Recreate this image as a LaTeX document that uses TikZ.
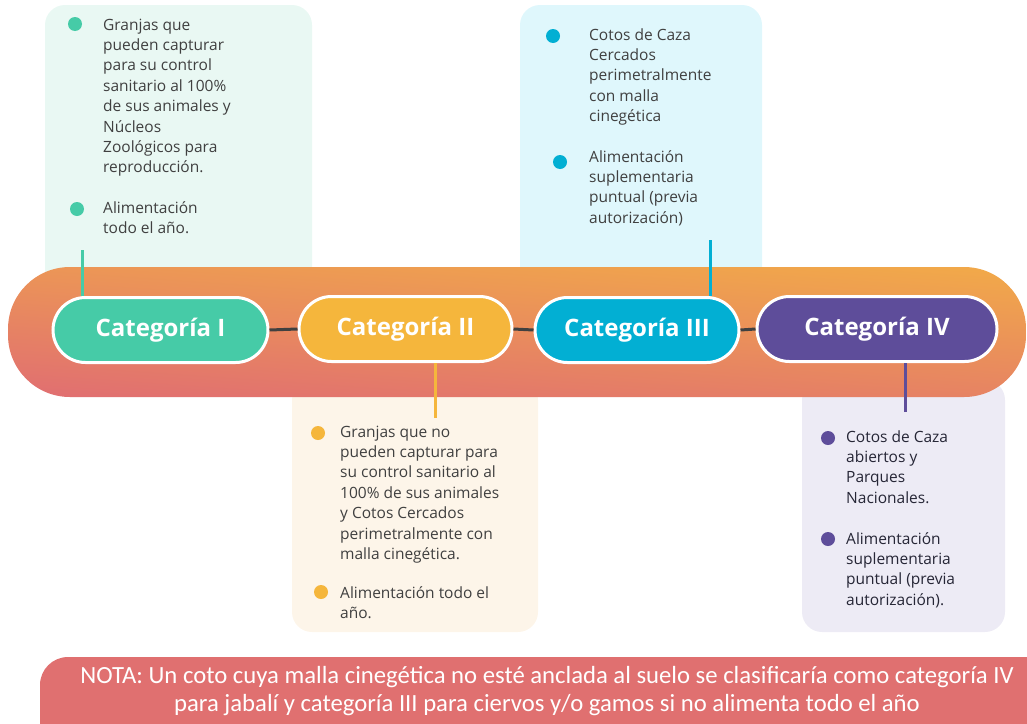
\documentclass[tikz,border=0pt]{standalone}
\usepackage{fontspec}
\setmainfont{Open Sans}
\newfontfamily\notefont{Carlito}
\newfontfamily\labelfont{Open Sans}
\usetikzlibrary{shapes.misc}
\definecolor{mintbg}{HTML}{E9F8F3}
\definecolor{cyanbg}{HTML}{DFF7FC}
\definecolor{creambg}{HTML}{FDF5E9}
\definecolor{lavbg}{HTML}{EDEBF5}
\definecolor{cgreen}{HTML}{46CBA7}
\definecolor{cyellow}{HTML}{F5B63C}
\definecolor{ccyan}{HTML}{02AFD3}
\definecolor{cpurple}{HTML}{5E4D9A}
\definecolor{bandtop}{HTML}{F1A84A}
\definecolor{bandbot}{HTML}{E17070}
\definecolor{notebg}{HTML}{E07070}
\definecolor{txt}{HTML}{404040}
\definecolor{txtiv}{HTML}{262636}
\definecolor{linkc}{HTML}{404040}
\begin{document}
\begin{tikzpicture}[x=1pt,y=-1pt,
  infobox/.style={rectangle, rounded corners=20pt, inner sep=0pt},
  pill/.style={rounded rectangle, draw=white, line width=3pt, minimum height=65pt, inner sep=0pt,
    text=white, font=\labelfont\bfseries\fontsize{24pt}{28pt}\selectfont},
  dot/.style={circle, inner sep=0pt, minimum size=14pt},
  item/.style={anchor=base west, inner sep=0pt, align=left, text=txt,
    font=\fontsize{15.5pt}{20.4pt}\selectfont},
  link/.style={draw=linkc, line width=3pt},
  tick/.style={line width=3pt}]
\useasboundingbox (0,0) rectangle (1027,723);
\clip (0,0) rectangle (1027,723);
% background boxes
\node[infobox, fill=mintbg, minimum width=267pt, minimum height=285pt] (b1) at (178.5,147.5) {};
\node[infobox, fill=cyanbg, minimum width=242pt, minimum height=285pt] (b3) at (641,147.5) {};
\node[infobox, fill=creambg, minimum width=246pt, minimum height=252pt] (b2) at (415,506) {};
\node[infobox, fill=lavbg, minimum width=203pt, minimum height=252pt] (b4) at (903.5,506) {};
% band
\shade[top color=bandtop, bottom color=bandbot, shading angle=-4, rounded corners=62pt]
  (8,267) rectangle (1026,397);
% pills
\node[pill, fill=cgreen, minimum width=215pt] (c1) at (160.5,330) {Categoría I};
\node[pill, fill=cyellow, minimum width=213pt] (c2) at (405.5,329) {Categoría II};
\node[pill, fill=ccyan, minimum width=204pt] (c3) at (637,330) {Categoría III};
\node[pill, fill=cpurple, minimum width=240pt] (c4) at (877,329) {Categoría IV};
\draw[link] (c1.east) -- (c2.west);
\draw[link] (c2.east) -- (c3.west);
\draw[link] (c3.east) -- (c4.west);
% vertical ticks
\coordinate (v1) at (82,250);
\coordinate (v3) at (710,240);
\coordinate (v2) at (435,418);
\coordinate (v4) at (905,412);
\draw[tick, cgreen] (v1) -- (v1 |- c1.north);
\draw[tick, ccyan] (v3) -- (v3 |- c3.north);
\draw[tick, cyellow] (v2) -- (v2 |- c2.south);
\draw[tick, cpurple] (v4) -- (v4 |- c4.south);
% category I (anchors at the baseline of each block's last line)
\node[dot, fill=cgreen] (d1a) at (75,24) {};
\node[dot, fill=cgreen] (d1b) at (77,209) {};
\node[item] (t1a) at (103,172.8) {Granjas que\\pueden capturar\\para su control\\sanitario al 100\%\\de sus animales y\\Núcleos\\Zoológicos para\\reproducción.};
\node[item] (t1b) at (103,233.4) {Alimentación\\todo el año.};
% category III
\node[dot, fill=ccyan] (d3a) at (553,36) {};
\node[dot, fill=ccyan] (d3b) at (560,162) {};
\node[item] (t3a) at (589,121.6) {Cotos de Caza\\Cercados\\perimetralmente\\con malla\\cinegética};
\node[item] (t3b) at (589,223.2) {Alimentación\\suplementaria\\puntual (previa\\autorización)};
% category II
\node[dot, fill=cyellow] (d2a) at (318,433) {};
\node[dot, fill=cyellow] (d2b) at (321,592) {};
\node[item] (t2a) at (340,559.4) {Granjas que no\\pueden capturar para\\su control sanitario al\\100\% de sus animales\\y Cotos Cercados\\perimetralmente con\\malla cinegética.};
\node[item] (t2b) at (340,618.4) {Alimentación todo el\\año.};
% category IV
\node[dot, fill=cpurple] (d4a) at (828,438) {};
\node[dot, fill=cpurple] (d4b) at (828,539) {};
\node[item, text=txtiv] (t4a) at (846,503.2) {Cotos de Caza\\abiertos y\\Parques\\Nacionales.};
\node[item, text=txtiv] (t4b) at (846,605.2) {Alimentación\\suplementaria\\puntual (previa\\autorización).};
% note
\node[infobox, rounded corners=28pt, fill=notebg, minimum width=1040pt, minimum height=110pt] (nb) at (560,712) {};
\node[inner sep=0pt, align=center, text=white, font=\notefont\fontsize{24.7pt}{28pt}\selectfont] (nt) at (547,691)
  {NOTA: Un coto cuya malla cinegética no esté anclada al suelo se clasificaría como categoría IV\\para jabalí y categoría III para ciervos y/o gamos si no alimenta todo el año};
\end{tikzpicture}
\end{document}
